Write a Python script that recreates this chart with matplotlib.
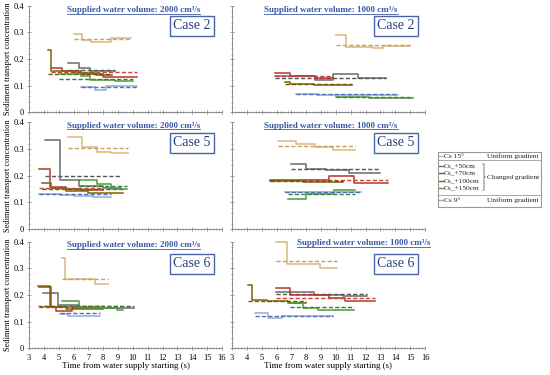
import matplotlib
matplotlib.use('Agg')
import matplotlib.pyplot as plt
from matplotlib.ticker import MultipleLocator
from matplotlib.lines import Line2D

plt.rcParams['font.family'] = ['Liberation Serif', 'DejaVu Serif']

# series order: Cs 15, +50cm, +70cm, +100cm, +150cm, Cs 9
names = ['Cs 15°', 'Cs_+50cm', 'Cs_+70cm', 'Cs_+100cm', 'Cs_+150cm', 'Cs 9°']
solid_colors = ['#dbb77e', '#6b6b6b', '#b5352c', '#7d6500', '#4c9a3c', '#93acd9']
dash_colors = ['#c99f5c', '#555555', '#c0463e', '#6e5a00', '#3b7f34', '#4e6fb5']

# Case 2, 2000 cm3/s  (step edges in s, step values, mean)
c2a_t = [[6.0, 6.6, 7.2, 8.5, 9.9], [5.6, 6.4, 7.1, 8.8], [4.5, 5.2, 6.5, 8.0, 10.3],
         [4.3, 4.5, 6.0, 7.5, 8.6], [5.0, 6.5, 7.1, 8.8, 10.0], [6.5, 7.45, 8.2, 10.3]]
c2a_v = [[0.295, 0.27, 0.262, 0.28], [0.184, 0.167, 0.155], [0.165, 0.155, 0.145, 0.132],
         [0.232, 0.155, 0.148, 0.14], [0.142, 0.136, 0.122, 0.116], [0.094, 0.083, 0.097]]
c2a_m = [0.275, 0.158, 0.152, 0.145, 0.124, 0.096]

# Case 2, 1000 cm3/s
c2b_t = [[10.0, 10.7, 12.5, 13.2, 15.0], [5.9, 8.6, 9.8, 11.5, 13.4], [5.9, 6.9, 8.6, 9.8],
         [6.6, 6.9, 8.5, 11.1], [10.0, 12.2, 15.2], [7.3, 8.7, 11.0, 14.2]]
c2b_v = [[0.29, 0.245, 0.242, 0.25], [0.135, 0.122, 0.143, 0.128], [0.146, 0.135, 0.128],
         [0.113, 0.106, 0.104], [0.059, 0.053], [0.07, 0.064, 0.066]]
c2b_m = [0.252, 0.13, 0.137, 0.107, 0.057, 0.068]

# Case 5, 2000 cm3/s
c5a_t = [[5.65, 6.55, 7.55, 8.55, 9.7], [4.1, 5.1, 6.4, 8.0, 9.2], [3.7, 4.4, 5.5, 6.5, 8.0],
         [3.9, 4.5, 5.5, 7.0, 9.35], [6.4, 7.55, 8.55, 9.6], [3.7, 5.1, 6.0, 7.3, 8.5]]
c5a_v = [[0.343, 0.306, 0.289, 0.283], [0.335, 0.185, 0.16, 0.152], [0.226, 0.158, 0.15, 0.145],
         [0.174, 0.155, 0.142, 0.133], [0.182, 0.167, 0.151], [0.132, 0.128, 0.124, 0.118]]
c5a_m = [0.302, 0.2, 0.155, 0.15, 0.161, 0.13]

# Case 5, 1000 cm3/s
c5b_t = [[6.1, 7.3, 8.6, 9.8, 11.3], [6.95, 8.0, 9.3, 10.9, 13.0], [5.55, 9.5, 11.2, 13.5],
         [5.55, 7.8, 10.5], [6.8, 8.0, 9.9, 11.3], [6.6, 9.0, 11.7]]
c5b_v = [[0.331, 0.32, 0.306, 0.295], [0.243, 0.226, 0.22, 0.211], [0.182, 0.197, 0.174],
         [0.18, 0.175], [0.113, 0.132, 0.145], [0.138, 0.14]]
c5b_m = [0.312, 0.224, 0.185, 0.178, 0.13, 0.138]

# Case 6, 2000 cm3/s
c6a_t = [[5.2, 5.45, 7.45, 8.35], [3.95, 4.95, 6.4, 10.1], [3.7, 4.5, 4.85, 5.9, 7.0],
         [3.6, 4.4, 5.5, 8.0], [5.2, 6.4, 8.9, 9.3], [5.1, 5.6, 7.8]]
c6a_v = [[0.338, 0.259, 0.242], [0.206, 0.162, 0.15], [0.23, 0.155, 0.14, 0.15],
         [0.232, 0.155, 0.148], [0.177, 0.15, 0.145], [0.13, 0.121]]
c6a_m = [0.26, 0.16, 0.155, 0.16, 0.16, 0.131]

# Case 6, 1000 cm3/s
c6b_t = [[5.96, 6.72, 8.9, 10.05], [5.96, 8.5, 10.5, 12.1], [5.96, 6.9, 9.5, 10.6, 12.6],
         [4.1, 4.33, 5.33, 6.8, 8.0], [6.9, 7.8, 8.8, 11.2], [4.55, 5.45, 6.35, 9.8]]
c6b_v = [[0.40, 0.316, 0.30], [0.212, 0.2, 0.198], [0.225, 0.2, 0.19, 0.179],
         [0.237, 0.181, 0.179, 0.17], [0.17, 0.15, 0.144], [0.134, 0.113, 0.121]]
c6b_m = [0.329, 0.205, 0.19, 0.178, 0.154, 0.123]

panels = [
    [(c2a_t, c2a_v, c2a_m, '2000', 'Case 2'), (c2b_t, c2b_v, c2b_m, '1000', 'Case 2')],
    [(c5a_t, c5a_v, c5a_m, '2000', 'Case 5'), (c5b_t, c5b_v, c5b_m, '1000', 'Case 5')],
    [(c6a_t, c6a_v, c6a_m, '2000', 'Case 6'), (c6b_t, c6b_v, c6b_m, '1000', 'Case 6')],
]

W, H = 550, 375
fig = plt.figure(figsize=(5.5, 3.75), dpi=100)
lefts = [29, 232]
tops = [5.7, 122.3, 241.7]
aw, ah = 193, 106.6
title_pos = [[(0.54, 0.96), (0.513, 0.96)], [(0.54, 0.968), (0.513, 0.968)],
             [(0.54, 0.969), (0.68, 0.988)]]
case_pos = [[(0.845, 0.81), (0.85, 0.81)], [(0.845, 0.81), (0.85, 0.81)],
            [(0.845, 0.795), (0.85, 0.795)]]
blue = '#3a5aa8'
titles = []

for r in range(3):
    for c in range(2):
        t_all, v_all, m_all, vol, case = panels[r][c]
        ax = fig.add_axes([lefts[c] / W, 1 - (tops[r] + ah) / H, aw / W, ah / H])
        for i in range(6):
            tt, vv = t_all[i], v_all[i]
            ax.step(tt, vv + [vv[-1]], where='post', color=solid_colors[i], lw=1.1, clip_on=False)
            ax.hlines(m_all[i], tt[0], tt[-1], colors=dash_colors[i], linestyles=(0, (3, 1.6)), lw=1.0)
        ax.set_xlim(3, 16)
        ax.set_ylim(0, 0.4)
        for s in ['top', 'right']:
            ax.spines[s].set_visible(False)
        for s in ['left', 'bottom']:
            ax.spines[s].set_color('#8c8c8c')
            ax.spines[s].set_linewidth(0.7)
        ax.xaxis.set_major_locator(MultipleLocator(1))
        ax.xaxis.set_minor_locator(MultipleLocator(0.2))
        ax.yaxis.set_major_locator(MultipleLocator(0.1))
        ax.yaxis.set_minor_locator(MultipleLocator(0.02))
        ax.tick_params(which='major', direction='inout', length=3.5, width=0.6, color='#8c8c8c',
                       labelsize=6, pad=2)
        ax.tick_params(which='minor', direction='inout', length=2, width=0.5, color='#8c8c8c')
        ax.set_yticks([0, 0.1, 0.2, 0.3, 0.4])
        ax.set_yticklabels(['0', '0.1', '0.2', '0.3', '0.4'])
        if c == 1:
            ax.tick_params(labelleft=False)
        else:
            ax.set_ylabel('Sediment transport concentration', fontsize=6, labelpad=1)
        if r < 2:
            ax.tick_params(labelbottom=False)
        else:
            ax.set_xlabel('Time from water supply starting (s)', fontsize=6.5, labelpad=0)
        tx, ty = title_pos[r][c]
        tobj = ax.text(tx, ty, 'Supplied water volume: ' + vol + ' cm³/s', transform=ax.transAxes,
                       ha='center', va='center', fontsize=6.5, color=blue, fontweight='bold')
        titles.append(tobj)
        cx, cy = case_pos[r][c]
        ax.text(cx, cy, case, transform=ax.transAxes, ha='center', va='center', fontsize=10,
                color='#2b3f7f',
                bbox=dict(boxstyle='square,pad=0.25', fc='white', ec='#4a64a8', lw=1.0))

# underline the titles
fig.canvas.draw()
renderer = fig.canvas.get_renderer()
for tobj in titles:
    bb = tobj.get_window_extent(renderer)
    x0, x1 = bb.x0 / fig.bbox.width, bb.x1 / fig.bbox.width
    y = (bb.y0 + 0.3) / fig.bbox.height
    fig.add_artist(Line2D([x0, x1], [y, y], transform=fig.transFigure, color=blue, lw=0.6))

# legend drawn as a small box in pixel units
lax = fig.add_axes([437.7 / W, 1 - 206.7 / H, (541 - 437.7) / W, (206.7 - 152.3) / H])
lax.set_xlim(437.7, 541)
lax.set_ylim(206.7, 152.3)
lax.set_xticks([])
lax.set_yticks([])
for s in lax.spines.values():
    s.set_color('#9a9a9a')
    s.set_linewidth(0.8)
rows_y = [156.2, 165.7, 173.2, 180.6, 188.0, 200.2]
for i in range(6):
    lax.plot([439, 443.5], [rows_y[i], rows_y[i]], color=solid_colors[i], lw=1.0)
    lax.text(444.2, rows_y[i], names[i], fontsize=5.3, va='center', ha='left', color='#222222')
lax.text(539, rows_y[0], 'Uniform gradient', fontsize=5.3, va='center', ha='right', color='#222222')
lax.text(539, rows_y[5], 'Uniform gradient', fontsize=5.3, va='center', ha='right', color='#222222')
lax.text(539.5, 177.0, 'Changed gradient', fontsize=5.3, va='center', ha='right', color='#222222')
for ys in [160.3, 194.6]:
    lax.plot([438.5, 540], [ys, ys], color='#9a9a9a', lw=0.6)
# brace
bx = 484.0
lax.plot([bx - 1.2, bx, bx, bx + 1.2, bx, bx, bx - 1.2],
         [163.5, 164.3, 176.2, 177.0, 177.8, 189.7, 190.5], color='#666666', lw=0.6)

fig.savefig('out.png', dpi=100)
